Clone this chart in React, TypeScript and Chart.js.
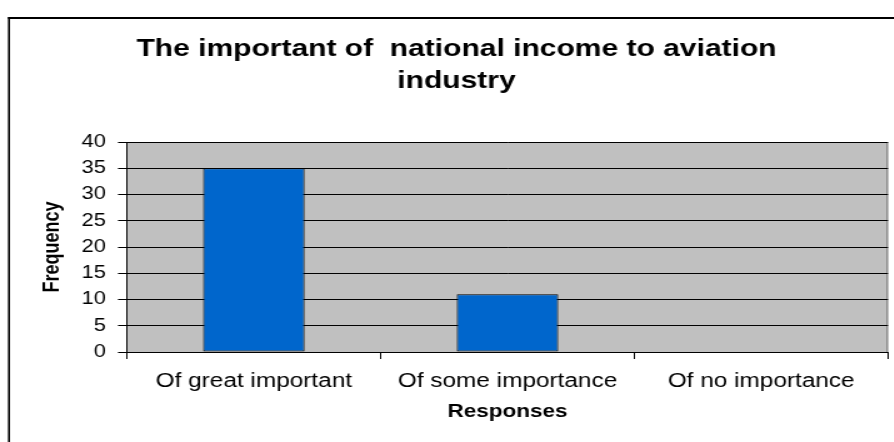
import React, { useEffect, useRef } from 'react';
import { Chart, registerables } from 'chart.js';

Chart.register(...registerables);

// ---- data ----
const categories = ['Of great important', 'Of some importance', 'Of no importance'];
const frequencies = [35, 11, 0];
const yMin = 0;
const yMax = 40;
const yStep = 5;
const titleLines = ['The important of  national income to aviation', 'industry'];
const xAxisTitle = 'Responses';
const yAxisTitle = 'Frequency';

// ---- layout (the reference is horizontally stretched) ----
const STRETCH = 1.25;
const W = 715;
const H = 442;
const FONT = '"Liberation Sans", Arial, Helvetica, sans-serif';

const backdrop = {
  id: 'backdrop',
  beforeDraw(chart: any) {
    const { ctx, chartArea: a } = chart;
    ctx.save();
    // outer frame (left and top visible)
    ctx.fillStyle = '#000';
    ctx.fillRect(6.4, 17, 1.6, H);
    ctx.fillRect(6.4, 17, W, 2);
    // plot background
    ctx.fillStyle = '#C0C0C0';
    ctx.fillRect(a.left, a.top, a.right - a.left, a.bottom - a.top);
    ctx.fillStyle = '#808080';
    ctx.fillRect(a.right - 1.2, a.top, 1.2, a.bottom - a.top);
    ctx.restore();
  },
};

export default function App() {
  const ref = useRef<HTMLCanvasElement>(null);
  useEffect(() => {
    const chart = new Chart(ref.current as HTMLCanvasElement, {
      type: 'bar',
      data: {
        labels: categories,
        datasets: [
          {
            data: frequencies,
            backgroundColor: '#0066CC',
            borderColor: '#000',
            borderWidth: 1,
            borderSkipped: false,
            barPercentage: 0.4,
            categoryPercentage: 1,
          },
        ],
      },
      options: {
        responsive: false,
        animation: false,
        devicePixelRatio: 1,
        layout: { padding: { left: 20, right: 4.6, top: 0, bottom: 0 } },
        plugins: {
          legend: { display: false },
          tooltip: { enabled: false },
          title: {
            display: true,
            text: titleLines,
            color: '#000',
            font: { family: FONT, size: 24, weight: 'bold', lineHeight: 32 / 24 },
            padding: { top: 33, bottom: 45 },
          },
        },
        scales: {
          x: {
            type: 'category',
            offset: true,
            grid: {
              offset: true,
              drawOnChartArea: false,
              drawTicks: true,
              tickLength: 7,
              color: '#000',
              tickColor: '#000',
            },
            border: { display: true, color: '#000', width: 1 },
            ticks: {
              color: '#000',
              font: { family: FONT, size: 19.5 },
              padding: 11,
              maxRotation: 0,
              autoSkip: false,
            },
            title: {
              display: true,
              text: xAxisTitle,
              color: '#000',
              font: { family: FONT, size: 18, weight: 'bold' },
              padding: { top: 0, bottom: 19 },
            },
            afterFit(s: any) {
              s.height = 90;
            },
          },
          y: {
            min: yMin,
            max: yMax,
            grid: {
              color: '#000',
              tickColor: '#000',
              lineWidth: 1,
              tickLength: 7.2,
            },
            border: { display: true, color: '#000', width: 1 },
            ticks: {
              stepSize: yStep,
              color: '#000',
              font: { family: FONT, size: 17.5 },
              padding: 9.6,
            },
            title: {
              display: true,
              text: yAxisTitle,
              color: '#000',
              font: { family: FONT, size: 18, weight: 'bold' },
              padding: { top: 11.2, bottom: 0 },
            },
            afterFit(s: any) {
              s.width = 81.6;
            },
          },
        },
      },
      plugins: [backdrop],
    } as any);
    return () => chart.destroy();
  }, []);

  return (
    <div
      style={{
        position: 'fixed',
        left: 0,
        top: 0,
        width: 894,
        height: 442,
        overflow: 'hidden',
        background: '#fff',
      }}
    >
      <canvas
        ref={ref}
        width={W}
        height={H}
        style={{
          display: 'block',
          width: W,
          height: H,
          transform: `scaleX(${STRETCH})`,
          transformOrigin: '0 0',
        }}
      />
    </div>
  );
}
